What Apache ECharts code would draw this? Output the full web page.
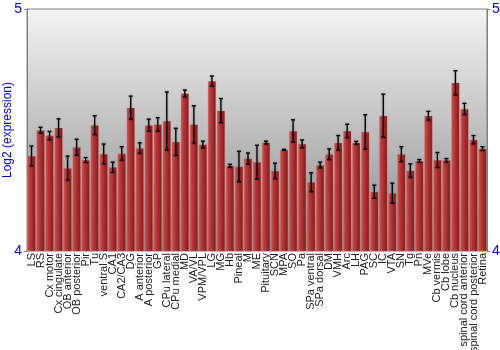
<!DOCTYPE html>
<html>
<head>
<meta charset="utf-8">
<title>Log2 expression</title>
<script src="https://cdn.jsdelivr.net/npm/echarts@6/dist/echarts.min.js"></script>
<style>
  html, body { margin: 0; padding: 0; background: #fff; }
  #main { width: 500px; height: 350px; }
</style>
</head>
<body>
<div id="main"></div>
<script type="text/javascript">
// tissues along the x axis
var regions = ['LS', 'RS', 'Cx motor', 'Cx cingulate', 'OB anterior', 'OB posterior', 'Pir', 'Tu',
  'ventral S', 'CA1', 'CA2/CA3', 'DG', 'A anterior', 'A posterior', 'GP', 'CPu lateral', 'CPu medial',
  'MD', 'VA/VL', 'VPM/VPL', 'LG', 'MG', 'Hb', 'Pineal', 'M', 'ME', 'Pituitary', 'SCN', 'MPA', 'SO',
  'Pa', 'SPa ventral', 'SPa dorsal', 'DM', 'VMH', 'Arc', 'LH', 'PAG', 'SC', 'IC', 'VTA', 'SN', 'Tg',
  'Pn', 'MVe', 'Cb vermis', 'Cb lobe', 'Cb nucleus', 'spinal cord anterior', 'spinal cord posterior',
  'Retina'];
// mean log2 expression
var means = [4.393, 4.499, 4.477, 4.509, 4.342, 4.429, 4.376, 4.520,
  4.401, 4.346, 4.403, 4.592, 4.425, 4.520, 4.523, 4.537, 4.451,
  4.651, 4.523, 4.440, 4.702, 4.580, 4.352, 4.349, 4.382, 4.367, 4.448, 4.331, 4.418, 4.496,
  4.443, 4.284, 4.355, 4.400, 4.447, 4.496, 4.447, 4.492, 4.245, 4.559, 4.239, 4.400, 4.332,
  4.372, 4.559, 4.376, 4.375, 4.695, 4.587, 4.460,
  4.423];
// half length of the error bars
var errs = [0.041, 0.012, 0.017, 0.037, 0.050, 0.033, 0.010, 0.039,
  0.041, 0.021, 0.028, 0.048, 0.022, 0.025, 0.028, 0.120, 0.056,
  0.014, 0.077, 0.014, 0.021, 0.050, 0.006, 0.063, 0.023, 0.070, 0.006, 0.032, 0.002, 0.046,
  0.016, 0.039, 0.012, 0.022, 0.030, 0.028, 0.006, 0.071, 0.027, 0.089, 0.041, 0.031, 0.028,
  0.006, 0.018, 0.031, 0.007, 0.050, 0.023, 0.017,
  0.008];
var yTicks = [4, 5];
var yName = 'Log2 (expression)';

var errData = [];
for (var i = 0; i < regions.length; i++) {
  errData.push([i, means[i] - errs[i], means[i] + errs[i]]);
}

var myChart = echarts.init(document.getElementById('main'));
var blue = '#0000ff';
var option = {
  animation: false,
  // y axis title, placed by hand so it sits left of the tick labels
  graphic: [{
    type: 'text',
    x: 8, y: 130,
    rotation: Math.PI / 2,
    style: {
      text: yName, fill: blue,
      font: '12px "Liberation Sans"',
      align: 'center', verticalAlign: 'middle'
    }
  }],
  grid: {
    left: 27, right: 13, top: 9, bottom: 99,
    outerBoundsMode: 'none',
    containLabel: false,
    show: true,
    borderColor: '#808080',
    borderWidth: 1,
    backgroundColor: new echarts.graphic.LinearGradient(0, 0, 0, 1, [
      { offset: 0, color: '#f4f4f4' },
      { offset: 1, color: '#8a8a8a' }
    ])
  },
  xAxis: {
    type: 'category',
    data: regions,
    axisTick: { show: false },
    axisLine: { show: false },
    axisLabel: {
      rotate: 90, interval: 0, margin: 2,
      fontFamily: 'Liberation Sans', fontSize: 11, color: '#222'
    }
  },
  yAxis: [{
    type: 'value', min: yTicks[0], max: yTicks[1], interval: 1,
    splitLine: { show: false },
    axisLine: { show: true, lineStyle: { color: '#808080' } },
    axisTick: { show: true, length: 3, lineStyle: { color: '#808080' } },
    axisLabel: { color: blue, fontFamily: 'Liberation Sans', fontSize: 14, margin: 5 }
  }, {
    type: 'value', min: yTicks[0], max: yTicks[1], interval: 1, position: 'right',
    splitLine: { show: false },
    axisLine: { show: true, lineStyle: { color: '#808080' } },
    axisTick: { show: true, length: 3, lineStyle: { color: '#808080' } },
    axisLabel: { color: blue, fontFamily: 'Liberation Sans', fontSize: 14, margin: 5 }
  }],
  series: [{
    type: 'bar',
    data: means,
    barCategoryGap: '10%',
    itemStyle: {
      color: new echarts.graphic.LinearGradient(0, 0, 1, 0, [
        { offset: 0, color: '#cc5555' },
        { offset: 0.35, color: '#bb3636' },
        { offset: 1, color: '#841818' }
      ]),
      borderColor: 'rgba(200,120,120,0.6)',
      borderWidth: 0.5
    }
  }, {
    type: 'custom',
    data: errData,
    z: 5,
    renderItem: function (params, api) {
      var lo = api.coord([api.value(0), api.value(1)]);
      var hi = api.coord([api.value(0), api.value(2)]);
      var w = 2;
      var style = { stroke: '#000', lineWidth: 1.3, shadowBlur: 2, shadowColor: 'rgba(0,0,0,0.4)' };
      return {
        type: 'group',
        children: [
          { type: 'line', shape: { x1: hi[0], y1: hi[1], x2: lo[0], y2: lo[1] }, style: style },
          { type: 'line', shape: { x1: hi[0] - w, y1: hi[1], x2: hi[0] + w, y2: hi[1] }, style: style },
          { type: 'line', shape: { x1: lo[0] - w, y1: lo[1], x2: lo[0] + w, y2: lo[1] }, style: style }
        ]
      };
    }
  }]
};
myChart.setOption(option);
</script>
</body>
</html>
